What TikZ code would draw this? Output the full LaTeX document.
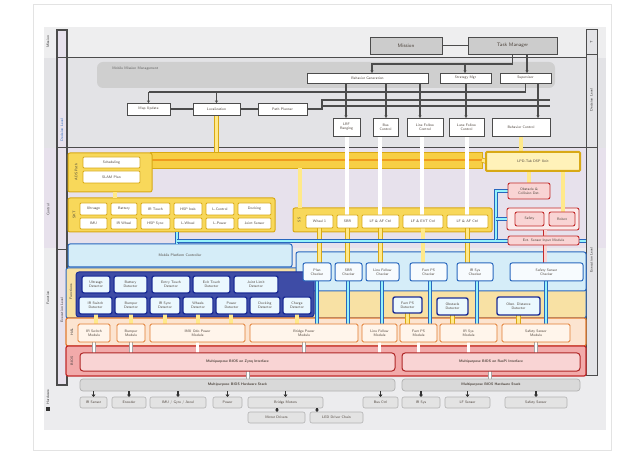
\documentclass[tikz,border=0pt]{standalone}
\usetikzlibrary{arrows.meta}
\pgfdeclarelayer{bg}\pgfdeclarelayer{cont}\pgfdeclarelayer{pipes}
\pgfsetlayers{bg,cont,pipes,main}
\definecolor{ydark}{HTML}{D8A915}
\definecolor{yfill}{HTML}{F8D85A}
\definecolor{ylight}{HTML}{FFE98A}
\definecolor{ybar}{HTML}{F7CF45}
\definecolor{ostripe}{HTML}{F09A1E}
\definecolor{dblue}{HTML}{1C2D96}
\definecolor{mblue}{HTML}{2867BE}
\definecolor{lblue}{HTML}{D5EDF8}
\definecolor{odark}{HTML}{E27B2E}
\definecolor{ofill}{HTML}{FCE4D0}
\definecolor{yband}{HTML}{F8E1A4}
\definecolor{rdark}{HTML}{C22A2A}
\definecolor{rfill}{HTML}{F2AAAA}
\definecolor{pfill}{HTML}{F9D4D4}
\definecolor{bgtop}{HTML}{EEEEEF}
\definecolor{bgplan}{HTML}{E3E3E6}
\definecolor{bgfun}{HTML}{E7E1EC}
\definecolor{bgbot}{HTML}{ECECEE}
\definecolor{txt}{HTML}{4A4038}
\newcommand\bx[7]{\node[#6, anchor=north west, minimum width={(#4-#2)*1pt}, minimum height={(#5-#3)*1pt}] (#1) at (#2,#3) {#7};}
\tikzset{
 every node/.style={font=\sffamily\fontsize{3.6}{4}\selectfont, inner sep=0.3pt, outer sep=0pt, align=center, text=txt},
 gbx/.style={draw=gray!60!black, fill=gray!40, line width=0.9pt, font=\sffamily\fontsize{5}{6}\selectfont},
 wbx/.style={draw=gray!60!black, fill=white, line width=0.9pt},
 ycont/.style={draw=ydark, fill=yfill, line width=1pt, rounded corners=2pt},
 ycontd/.style={draw=ydark, fill=ylight!60!white, line width=2pt, rounded corners=1pt},
 ybx/.style={draw=ydark, fill=white, line width=0.8pt, rounded corners=1pt},
 barst/.style={draw=ydark, fill=ybar, line width=0.8pt},
 dcont/.style={draw=dblue, fill=dblue!85!white, line width=1pt, rounded corners=3pt},
 dbx/.style={draw=dblue, fill=white!92!cyan, line width=1.4pt, rounded corners=2pt},
 lbx/.style={draw=mblue, fill=lblue, line width=1pt, rounded corners=2pt},
 rbx/.style={draw=mblue, fill=white!80!lblue, line width=1pt, rounded corners=2pt},
 ybandst/.style={draw=mblue, fill=yband, line width=1pt, rounded corners=2pt},
 ocont/.style={draw=odark, fill=ofill, line width=1.2pt, rounded corners=2pt},
 obx/.style={draw=odark, fill=white!92!orange, line width=0.9pt, rounded corners=1.5pt},
 rcont/.style={draw=rdark, fill=rfill, line width=1.2pt, rounded corners=2pt},
 pcont/.style={draw=rdark, fill=pfill!50!white, line width=0.9pt, rounded corners=2pt},
 pbx/.style={draw=rdark, fill=pfill, line width=0.9pt, rounded corners=2pt},
 bigbx/.style={draw=rdark!90!black, fill=pfill, line width=1pt, rounded corners=3pt, font=\sffamily\bfseries\fontsize{3.6}{4}\selectfont},
 gwide/.style={draw=gray!60, fill=gray!30, line width=0.7pt, rounded corners=3pt, font=\sffamily\bfseries\fontsize{3.6}{4}\selectfont},
 hbx/.style={draw=gray!60, fill=gray!22, line width=0.6pt, rounded corners=2pt},
 rlab/.style={rotate=90, text=gray!45!black},
 gline/.style={draw=gray!60!black, line width=1.1pt},
 garr/.style={gline, -{Stealth[length=2.5pt,width=3pt]}},
 ypipe/.style={draw=ydark, double=ylight, double distance=3.2pt, line width=0.8pt},
 gpipe/.style={draw=gray!65, double=white, double distance=3.2pt, line width=0.8pt},
 bpipe/.style={draw=mblue, double=lblue!70!cyan, double distance=2.6pt, line width=0.8pt},
 ppipe/.style={draw=rdark, double=pfill, double distance=3pt, line width=0.8pt},
 wpipe/.style={draw=gray!70, double=white, double distance=2.4pt, line width=0.6pt},
 harr/.style={draw=black!80, line width=1.5pt, -{Triangle[length=2.5pt,width=4pt]}},
}
\begin{document}
\begin{tikzpicture}[x=1pt,y=-1pt]
\useasboundingbox (0,0) rectangle (640,454);
\begin{pgfonlayer}{bg}
\fill[white] (0,0) rectangle (640,454);
\draw[gray!22] (33,4) rectangle (611,450);
\fill[bgtop] (44,27) rectangle (606,58);
\fill[bgplan] (44,58) rectangle (606,148);
\fill[bgfun] (44,148) rectangle (606,248);
\fill[bgbot] (44,248) rectangle (606,430);
\draw[line width=1.2pt, gray!60!black, fill=bgfun] (57,30) rectangle (67,385);
\draw[gray!60!black, line width=1pt] (57,58) -- (586,58);
\draw[gray!60!black, line width=1pt] (57,148) -- (586,148);
\draw[gray!60!black, line width=1pt] (57,250) -- (67,250);
\draw[line width=1pt, gray!60!black, fill=bgplan] (586,30) rectangle (597,375);
\draw[gray!60!black, line width=1pt] (586,55) -- (597,55);
\draw[gray!60!black, line width=1pt] (586,148) -- (597,148);
\fill[black!80] (45.5,406.5) rectangle (49.5,410.5);
\end{pgfonlayer}
% side labels
\node[rlab] (l1) at (48,42) {Mission};
\node[rlab] (l2) at (48,210) {Control};
\node[rlab] (l3) at (48,298) {Function};
\node[rlab] (l4) at (48,397) {Hardware};
\node[rlab, text=mblue] (l5) at (62,130) {Decision Level};
\node[rlab] (l6) at (62,310) {Execution Level};
\node[rlab] (l7) at (591.5,42) {T};
\node[rlab] (l8) at (591.5,100) {Decision Level};
\node[rlab] (l9) at (591.5,260) {Execution Level};
% ---------- top
\bx{mission}{370}{37}{442}{54}{gbx}{Mission}
\bx{task}{468}{37}{557}{54}{gbx}{Task Manager}
% ---------- planning
\begin{pgfonlayer}{cont}
\fill[gray!38, rounded corners=6pt] (97,62) rectangle (555,88);
\end{pgfonlayer}
\node[anchor=west, text=gray!75!black] (mml) at (112,69) {Mobile Mission Management};
\bx{beh}{307}{73}{428}{83}{wbx}{Behavior Generation}
\bx{stm}{440}{73}{491}{83}{wbx}{Strategy Mgr}
\bx{sup}{500}{73}{551}{83}{wbx}{Supervisor}
\bx{mapu}{127}{103}{170}{115}{wbx}{Map Update}
\bx{loc}{193}{103}{240}{115}{wbx}{Localization}
\bx{pathp}{258}{103}{307}{115}{wbx}{Path Planner}
\bx{sa}{333}{118}{360}{136}{wbx}{LRF\\Ranging}
\bx{sb}{373}{118}{398}{136}{wbx}{Bus\\Control}
\bx{sc}{407}{118}{443}{136}{wbx}{Line Follow\\Control}
\bx{sd}{449}{118}{484}{136}{wbx}{Lane Follow\\Control}
\bx{se}{492}{118}{550}{136}{wbx}{Behavior Control}
% ---------- function band (yellow)
\begin{pgfonlayer}{cont}
\bx{bar}{150}{152}{482}{168}{barst}{}
\draw[ostripe, line width=2.4pt] (bar.west) -- (bar.east);
\bx{lb}{68}{153}{152}{192}{ycont}{}
\bx{rb}{68}{198}{275}{232}{ycont}{}
\bx{mr}{293}{208}{492}{232}{ycont}{}
\bx{pc}{507}{208}{579}{230}{pcont}{}
\bx{yb}{66}{268}{586}{318}{ybandst}{}
\bx{lbb}{68}{244}{292}{267}{lbx}{Mobile Platform Controller}
\bx{rba}{296}{252}{586}{291}{lbx}{}
\bx{dbc}{76}{272}{314}{317}{dcont}{}
\bx{oc}{66}{318}{586}{346}{ocont}{}
\bx{redc}{66}{346}{586}{376}{rcont}{}
\end{pgfonlayer}
\node[rlab] (lbl1) at (76,172) {ADS Path};
\bx{lba}{83}{157}{140}{168}{ybx}{Scheduling}
\bx{lbc}{83}{171}{140}{183}{ybx}{SLAM Plan}
\node[rlab] (lbl2) at (74,215) {SKT};
\bx{ra1}{80}{203}{107}{215}{ybx}{Ultrasgn}
\bx{ra2}{111}{203}{137}{215}{ybx}{Battery}
\bx{ra3}{141}{203}{170}{215}{ybx}{IR Touch}
\bx{ra4}{174}{203}{202}{215}{ybx}{HSP Insb}
\bx{ra5}{206}{203}{234}{215}{ybx}{L-Control}
\bx{ra6}{238}{203}{271}{215}{ybx}{Docking}
\bx{rc1}{80}{218}{107}{229}{ybx}{IMU}
\bx{rc2}{111}{218}{137}{229}{ybx}{IR Wheel}
\bx{rc3}{141}{218}{170}{229}{ybx}{HSP Sync}
\bx{rc4}{174}{218}{202}{229}{ybx}{L-Wheel}
\bx{rc5}{206}{218}{234}{229}{ybx}{L-Power}
\bx{rc6}{238}{218}{271}{229}{ybx}{Joint Sensor}
\node[rlab] (lbl3) at (299,220) {SS};
\bx{m1}{306}{215}{333}{228}{ybx}{Wheel 1}
\bx{m2}{337}{215}{358}{228}{ybx}{SBR}
\bx{m3}{362}{215}{399}{228}{ybx}{LF \& AF Ctrl}
\bx{m4}{403}{215}{443}{228}{ybx}{LF \& EVT Ctrl}
\bx{m5}{447}{215}{488}{228}{ybx}{LF \& AF Ctrl}
\bx{ryb}{486}{152}{580}{171}{ycontd}{LPD-Tab DSP Unit}
\bx{p1}{508}{183}{550}{199}{pbx}{Obstacle \&\\Collision Det.}
\bx{pk1}{515}{212}{544}{226}{pbx}{Safety}
\bx{pk2}{549}{212}{575}{226}{pbx}{Robot}
\bx{pb}{508}{236}{579}{245}{pbx}{Ext. Sensor Input Module}
% ---------- blue / modules
\node[rlab] (lbl4) at (71,292) {Functions};
\bx{d1}{82}{276}{110}{293}{dbx}{Ultrasgn\\Detector}
\bx{d2}{114}{276}{147}{293}{dbx}{Battery\\Detector}
\bx{d3}{152}{276}{190}{293}{dbx}{Entry Touch\\Detector}
\bx{d4}{193}{276}{230}{293}{dbx}{Exit Touch\\Detector}
\bx{d5}{234}{276}{278}{293}{dbx}{Joint Limit\\Detector}
\bx{e1}{79}{297}{112}{314}{dbx}{IR Switch\\Detector}
\bx{e2}{115}{297}{147}{314}{dbx}{Bumper\\Detector}
\bx{e3}{150}{297}{180}{314}{dbx}{IR Sync\\Detector}
\bx{e4}{183}{297}{213}{314}{dbx}{Wheels\\Detector}
\bx{e5}{216}{297}{247}{314}{dbx}{Power\\Detector}
\bx{e6}{250}{297}{280}{314}{dbx}{Docking\\Detector}
\bx{e7}{283}{297}{311}{314}{dbx}{Charge\\Detector}
\bx{r1}{303}{263}{331}{281}{rbx}{Plan\\Checker}
\bx{r2}{335}{263}{362}{281}{rbx}{SBR\\Checker}
\bx{r3}{366}{263}{399}{281}{rbx}{Line Follow\\Checker}
\bx{r4}{410}{263}{447}{281}{rbx}{Fact PS\\Checker}
\bx{r5}{457}{263}{493}{281}{rbx}{IR Sys\\Checker}
\bx{r6}{510}{263}{583}{281}{rbx}{Safety Sensor\\Checker}
\bx{q1}{393}{297}{422}{313}{dbx}{Fact PS\\Detector}
\bx{q2}{437}{298}{468}{315}{dbx}{Obstacle\\Detector}
\bx{q3}{497}{297}{540}{315}{dbx}{Obst. Distance\\Detector}
% ---------- orange
\node[rlab] (lbl5) at (72,332) {HAL};
\bx{o1}{78}{324}{110}{342}{obx}{IR Switch\\Module}
\bx{o2}{117}{324}{145}{342}{obx}{Bumper\\Module}
\bx{o3}{150}{324}{245}{342}{obx}{IMU Odo Power\\Module}
\bx{o4}{250}{324}{358}{342}{obx}{Bridge Power\\Module}
\bx{o5}{362}{324}{397}{342}{obx}{Line Follow\\Module}
\bx{o6}{400}{324}{437}{342}{obx}{Fact PS\\Module}
\bx{o7}{440}{324}{497}{342}{obx}{IR Sys\\Module}
\bx{o8}{502}{324}{570}{342}{obx}{Safety Sensor\\Module}
% ---------- red
\node[rlab] (lbl6) at (72,361) {BIOS};
\bx{big1}{80}{353}{395}{371}{bigbx}{Multipurpose BIOS on Zynq Interface}
\bx{big2}{402}{353}{580}{371}{bigbx}{Multipurpose BIOS on RasPi Interface}
% ---------- hardware
\bx{g1}{80}{379}{395}{391}{gwide}{Multipurpose BIOS Hardware Stack}
\bx{g2}{402}{379}{580}{391}{gwide}{Multipurpose BIOS Hardware Stack}
\bx{h1}{80}{397}{107}{408}{hbx}{IR Sensor}
\bx{h2}{112}{397}{146}{408}{hbx}{Encoder}
\bx{h3}{150}{397}{206}{408}{hbx}{IMU / Gyro / Accel}
\bx{h4}{213}{397}{242}{408}{hbx}{Power}
\bx{h5}{248}{397}{323}{408}{hbx}{Bridge Motors}
\bx{h6}{363}{397}{398}{408}{hbx}{Bus Ctrl}
\bx{h7}{402}{397}{440}{408}{hbx}{IR Sys}
\bx{h8}{445}{397}{490}{408}{hbx}{LF Sensor}
\bx{h9}{505}{397}{567}{408}{hbx}{Safety Sensor}
\bx{k1}{248}{412}{305}{423}{hbx}{Motor Drivers}
\bx{k2}{310}{412}{363}{423}{hbx}{LED Driver Chain}
% ================= connectors
\begin{pgfonlayer}{pipes}
\draw[gline] (mission) -- (task);
\draw[garr] (task.south) -- (task.south |- 0,64) -| (372,0 |- beh.north);
\coordinate (tj) at (465,64);
\draw[garr] (tj) -- (tj |- stm.north);
\draw[garr] (527,0 |- task.south) -- (527,0 |- sup.north);
\draw[gline] (sup.south) -- (sup.south |- 0,92) -- (mapu.north |- 0,92);
\draw[garr] (mapu.north |- 0,92) -- (mapu.north);
\draw[garr] (loc.north |- 0,92) -- (loc.north);
\draw[gline] (mapu) -- (loc);
\draw[gline] (loc) -- (pathp);
\draw[gline] (pathp.east) -- (322,0 |- pathp.east) |- (se.east |- 0,100);
\draw[gline] (322,0 |- pathp.east) |- (se.east |- 0,106);
\draw[garr] (346,0 |- beh.south) -- (346,0 |- sa.north);
\draw[garr] (386,0 |- beh.south) -- (386,0 |- sb.north);
\draw[garr] (420,0 |- beh.south) -- (420,0 |- sc.north);
\draw[garr] (466,0 |- stm.south) -- (466,0 |- sd.north);
\draw[garr] (538,0 |- sup.south) -- (538,0 |- se.north);
% yellow
\draw[ypipe] (loc.south) -- (loc.south |- bar.north);
\draw[ypipe] (300,0 |- bar.south) -- (300,0 |- mr.north);
\draw[ypipe] (bar.east) -- (ryb.west);
\draw[ypipe] (se.south) -- (se.south |- ryb.north);
\draw[ypipe] (529,0 |- ryb.south) -- (529,0 |- p1.north);
\draw[ypipe] (563,0 |- ryb.south) -- (563,0 |- pk2.north);
\draw[ypipe] (115,0 |- lb.south) -- (115,0 |- rb.north);
\draw[gpipe] (347,0 |- sa.south) -- (347,0 |- m2.north);
\draw[gpipe] (380,0 |- sb.south) -- (380,0 |- m3.north);
\draw[gpipe] (422,0 |- sc.south) -- (422,0 |- m4.north);
\draw[gpipe] (467,0 |- sd.south) -- (467,0 |- m5.north);
\draw[ypipe] (m1.south) -- (m1.south |- r1.north);
\draw[ypipe] (m2.south) -- (m2.south |- r2.north);
\draw[ypipe] (m3.south) -- (m3.south |- r3.north);
\draw[ypipe] (m4.south) -- (m4.south |- r4.north);
\draw[ypipe] (m5.south) -- (m5.south |- r5.north);
% pink
\draw[ppipe] (545,0 |- pc.south) -- (545,0 |- pb.north);
\draw[ppipe] (545,0 |- pb.south) -- (545,0 |- r6.north);
% blue
\coordinate (bj1) at (177,241);
\coordinate (bj2) at (496,241);
\draw[bpipe] (bj1 |- rb.south) -- (bj1 |- lbb.north);
\draw[bpipe] (bj1) -- (bj2) -- (bj2 |- p1.west) -- (p1.west);
\draw[bpipe] (bj2 |- pc.west) -- (pc.west);
\draw[bpipe] (bj2) -- (586,241);
\draw[bpipe] (317,0 |- r1.south) -- (317,0 |- o4.north);
\draw[bpipe] (348,0 |- r2.south) -- (348,0 |- o4.north);
\draw[bpipe] (382,0 |- r3.south) -- (382,0 |- o5.north);
\draw[bpipe] (430,0 |- r4.south) -- (430,0 |- o6.north);
\draw[bpipe] (477,0 |- r5.south) -- (477,0 |- o7.north);
\draw[bpipe] (546,0 |- r6.south) -- (546,0 |- o8.north);
\draw[ypipe] (q1.south) -- (q1.south |- o6.north);
\draw[ypipe] (q2.south) -- (q2.south |- o7.north);
\draw[ypipe] (q3.south) -- (q3.south |- o8.north);
\draw[ypipe] (96,0 |- e1.south) -- (96,0 |- o1.north);
\draw[ypipe] (131,0 |- e2.south) -- (131,0 |- o2.north);
\draw[ypipe] (165,0 |- e3.south) -- (165,0 |- o3.north);
\draw[ypipe] (198,0 |- e4.south) -- (198,0 |- o3.north);
\draw[ypipe] (231,0 |- e5.south) -- (231,0 |- o3.north);
\draw[ypipe] (297,0 |- e7.south) -- (297,0 |- o4.north);
% orange -> red
\draw[wpipe] (o1.south) -- (o1.south |- big1.north);
\draw[wpipe] (o2.south) -- (o2.south |- big1.north);
\draw[wpipe] (o3.south) -- (o3.south |- big1.north);
\draw[wpipe] (o4.south) -- (o4.south |- big1.north);
\draw[wpipe] (o5.south) -- (o5.south |- big1.north);
\draw[wpipe] (o6.south) -- (o6.south |- big2.north);
\draw[wpipe] (o7.south) -- (o7.south |- big2.north);
\draw[wpipe] (o8.south) -- (o8.south |- big2.north);
\draw[wpipe] (248,0 |- big1.south) -- (248,0 |- g1.north);
\draw[wpipe] (490,0 |- big2.south) -- (490,0 |- g2.north);
\end{pgfonlayer}
% hardware arrows
\draw[harr] (h1.north |- g1.south) -- (h1.north);
\draw[harr] (h2.north |- g1.south) -- (h2.north);
\draw[harr] (h3.north |- g1.south) -- (h3.north);
\draw[harr] (h4.north |- g1.south) -- (h4.north);
\draw[harr] (h5.north |- g1.south) -- (h5.north);
\draw[harr] (h6.north |- g1.south) -- (h6.north);
\draw[harr] (h7.north |- g2.south) -- (h7.north);
\draw[harr] (h8.north |- g2.south) -- (h8.north);
\draw[harr] (h9.north |- g2.south) -- (h9.north);
\draw[harr] (277,0 |- h5.south) -- (277,0 |- k1.north);
\draw[harr] (317,0 |- h5.south) -- (317,0 |- k2.north);
\end{tikzpicture}
\end{document}
